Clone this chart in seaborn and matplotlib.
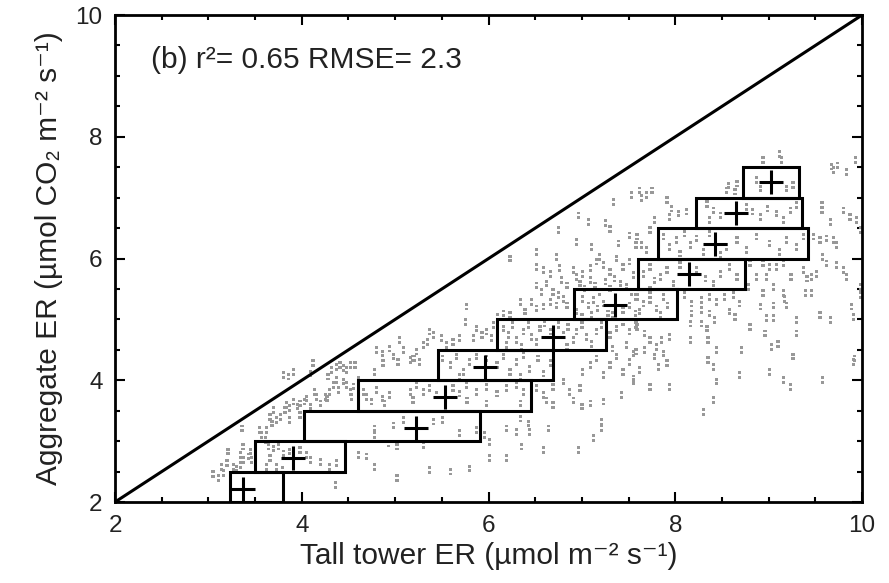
import matplotlib
matplotlib.use("Agg")
import matplotlib.pyplot as plt
import pandas as pd
import seaborn as sns
from matplotlib.path import Path
from matplotlib.patches import Rectangle
from matplotlib.ticker import MultipleLocator

# Hourly ecosystem respiration: tall tower flux vs. aggregated (upscaled) flux
tower_er = [
    3.05, 3.11, 3.16, 3.14, 3.20, 3.27, 3.30, 3.34, 3.37, 3.43,
    3.46, 3.21, 3.34, 3.37, 3.57, 3.62, 3.68, 3.73, 3.77, 3.82,
    3.84, 3.87, 3.91, 3.95, 3.98, 4.03, 4.05, 4.09, 4.14, 4.16,
    4.20, 4.25, 3.91, 3.80, 3.86, 4.12, 4.09, 4.28, 4.32, 4.37,
    4.41, 4.45, 4.48, 4.52, 4.57, 4.34, 4.39, 4.30, 4.27, 4.37,
    4.45, 4.48, 4.52, 4.53, 4.55, 4.61, 4.80, 4.86, 4.94, 4.98,
    5.05, 5.09, 5.03, 5.16, 5.21, 4.87, 4.78, 4.66, 4.69, 4.75,
    4.80, 4.86, 4.89, 4.94, 5.16, 5.19, 3.61, 3.64, 3.70, 3.75,
    3.80, 3.87, 3.98, 4.05, 4.09, 4.20, 4.30, 4.37, 4.36, 4.78,
    4.78, 4.98, 5.09, 4.61, 4.69, 4.78, 5.02, 4.93, 5.02, 3.73,
    3.79, 3.45, 3.66, 3.62, 3.36, 3.55, 3.66, 3.70, 3.98, 3.87,
    6.75, 6.94, 7.10, 7.19, 7.30, 7.39, 7.51, 7.58, 6.73, 6.51,
    6.23, 6.51, 6.59, 6.66, 6.76, 6.91, 6.94, 7.01, 7.09, 7.16,
    7.23, 7.30, 7.37, 7.44, 7.51, 7.55, 6.78, 6.84, 6.51, 6.57,
    6.62, 6.69, 6.75, 6.80, 6.84, 6.73, 6.66, 6.59, 6.51, 6.46,
    6.34, 6.39, 6.23, 6.16, 6.10, 6.05, 6.98, 7.03, 7.09, 7.14,
    7.19, 7.25, 7.30, 7.35, 7.41, 7.48, 7.53, 7.58, 7.01, 7.07,
    7.12, 7.17, 7.23, 7.28, 7.33, 7.44, 7.51, 7.57, 6.94, 7.00,
    7.10, 6.16, 6.21, 6.26, 6.30, 6.37, 6.43, 6.46, 6.51, 6.55,
    6.60, 6.66, 6.75, 6.80, 6.85, 6.91, 6.94, 7.00, 7.05, 7.10,
    7.16, 7.21, 6.19, 6.35, 6.84, 5.76, 5.75, 5.87, 5.93, 5.98,
    6.03, 5.84, 5.69, 5.62, 5.55, 5.50, 5.41, 5.35, 5.30, 5.23,
    5.19, 5.26, 5.37, 5.51, 5.59, 5.66, 5.73, 5.80, 5.87, 5.98,
    6.09, 6.16, 6.23, 6.30, 6.37, 6.44, 6.53, 6.59, 6.66, 5.69,
    6.34, 5.23, 5.30, 5.37, 5.44, 5.62, 5.69, 5.76, 5.87, 5.98,
    6.09, 6.19, 6.30, 6.37, 6.51, 6.59, 6.69, 6.80, 6.87, 6.98,
    7.01, 7.09, 7.16, 7.23, 7.30, 7.37, 7.44, 7.51, 7.58, 7.30,
    7.37, 7.44, 7.51, 7.58, 7.33, 7.48, 7.55,
    6.62, 6.69, 6.91, 7.00, 7.09, 7.23, 7.42, 6.34, 6.43, 6.44,
    6.19, 6.30, 6.01, 6.64, 7.12, 7.21, 7.21, 6.35, 6.59, 6.96,
    6.01, 6.19, 5.37, 5.59, 5.80, 5.41, 5.51, 5.69, 5.87, 5.96,
    5.30, 5.98, 5.77, 6.34,
    8.94, 9.12, 9.14, 8.66, 8.57, 8.55, 8.64, 8.87, 8.91, 9.19,
    9.26, 9.69, 9.74, 9.83, 7.62, 7.69, 7.91, 7.96, 8.03, 8.12,
    7.94, 7.78, 7.73, 7.59, 7.64, 7.69, 8.34, 8.41, 8.48, 8.37,
    8.76, 8.83, 8.91, 8.99, 9.08, 9.16, 9.23, 9.30, 7.87, 7.94,
    8.01, 8.10, 8.16, 8.23, 8.30, 8.37, 8.55, 8.66, 8.76, 8.87,
    9.01, 9.12, 9.19, 9.30, 9.37, 8.05, 8.48, 7.66, 7.73, 7.78,
    7.84, 7.91, 7.98, 8.05, 8.23, 8.32, 8.41, 8.48, 8.58, 8.66,
    7.73, 9.57, 9.57, 9.66, 9.80, 9.87, 9.94, 9.98, 9.48, 9.55,
    9.62, 9.69, 9.73, 9.58, 9.62, 9.73, 9.80, 9.51, 9.37, 9.41,
    9.46, 9.24, 9.16, 9.08, 9.01, 8.94, 8.98, 9.05, 8.80, 8.87,
    8.78, 8.94, 9.16, 9.83, 9.98,
    7.59, 7.66, 7.73, 7.80, 7.87, 7.92, 7.62, 7.84, 8.10, 8.17,
    8.28, 8.37, 8.44, 8.53, 8.62, 8.69, 8.17, 8.28, 8.37, 8.42,
    8.28, 8.16, 8.34, 8.58, 8.64, 8.80, 8.91, 8.98, 9.05, 9.05,
    9.17, 9.19, 9.30, 9.39, 9.46, 9.55, 9.66, 9.89, 9.91, 9.98,
    7.59, 7.67, 7.73, 7.80, 7.87, 7.91, 7.82, 7.78, 7.85, 7.94,
    7.62, 7.55, 7.73, 7.94, 8.16, 8.35, 8.44, 8.35, 8.41, 8.44,
    8.71, 8.69, 8.96, 9.03, 9.10, 9.01, 9.16, 9.23, 9.26, 9.30,
    9.58, 9.91, 8.41, 8.30, 7.55, 7.67,
    6.96, 7.34, 7.53, 7.64, 7.75, 7.07, 7.25, 9.92, 9.67, 9.93,
]

aggregate_er = [
    2.46, 2.39, 2.48, 2.58, 2.64, 2.58, 2.55, 2.61, 2.69, 2.75,
    2.69, 2.83, 2.77, 2.91, 3.10, 3.18, 3.29, 3.35, 3.40, 3.51,
    3.59, 3.54, 3.65, 3.57, 3.62, 3.65, 3.70, 3.57, 3.81, 3.73,
    3.62, 3.73, 4.14, 4.09, 4.06, 4.28, 4.11, 4.06, 4.17, 4.22,
    4.25, 4.20, 4.17, 4.25, 4.25, 3.92, 3.84, 3.81, 3.70, 4.00,
    3.98, 3.92, 3.81, 3.73, 3.90, 4.00, 4.50, 4.44, 4.52, 4.39,
    4.66, 4.50, 4.30, 4.33, 4.36, 4.28, 4.14, 3.81, 3.73, 3.65,
    3.84, 3.70, 3.62, 3.76, 3.81, 3.68, 3.02, 2.91, 2.88, 2.91,
    2.80, 2.83, 2.85, 2.77, 2.69, 2.66, 2.58, 2.64, 2.28, 3.21,
    3.10, 3.26, 3.35, 2.77, 2.75, 2.58, 2.39, 2.96, 2.91, 2.58,
    2.53, 2.83, 2.72, 2.58, 3.21, 3.18, 3.40, 3.51, 3.43, 3.35,
    6.47, 6.27, 6.19, 6.03, 6.49, 6.25, 6.38, 6.22, 6.03, 6.11,
    6.00, 5.86, 5.81, 5.75, 5.84, 5.81, 5.70, 5.75, 5.84, 5.95,
    5.89, 5.78, 6.00, 5.86, 5.95, 5.73, 5.65, 5.56, 5.56, 5.45,
    5.59, 5.45, 5.40, 5.34, 5.23, 5.23, 5.29, 5.21, 5.18, 5.29,
    5.29, 5.13, 5.07, 5.10, 5.04, 4.91, 5.59, 5.51, 5.65, 5.56,
    5.45, 5.62, 5.51, 5.67, 5.59, 5.54, 5.45, 5.37, 5.34, 5.23,
    5.32, 5.18, 5.26, 5.10, 5.07, 5.15, 5.23, 5.10, 5.13, 5.04,
    5.07, 4.85, 4.74, 4.91, 4.66, 4.80, 4.91, 4.71, 4.63, 4.85,
    4.93, 4.80, 4.91, 4.74, 4.88, 4.66, 4.80, 4.91, 4.71, 4.60,
    4.80, 4.91, 4.58, 4.55, 4.55, 5.21, 4.96, 4.85, 4.74, 4.80,
    4.69, 4.69, 4.69, 4.63, 4.58, 4.69, 4.74, 4.63, 4.58, 4.47,
    4.36, 4.30, 4.80, 4.36, 4.25, 4.39, 4.14, 4.30, 4.39, 4.36,
    4.25, 4.39, 4.14, 4.30, 4.41, 4.19, 4.36, 4.11, 4.28, 4.06,
    4.06, 3.92, 3.81, 3.87, 3.76, 3.87, 3.78, 3.92, 3.81, 3.89,
    3.78, 3.87, 3.92, 3.81, 3.87, 3.76, 3.89, 3.98, 3.81, 3.87,
    4.14, 4.25, 4.36, 4.09, 4.25, 4.39, 4.14, 4.30, 4.47, 4.74,
    4.85, 4.96, 4.80, 4.91, 4.52, 4.58, 3.98,
    3.67, 3.59, 3.67, 3.57, 3.62, 3.65, 3.76, 3.37, 3.29, 3.15,
    3.21, 3.15, 2.99, 3.21, 3.05, 3.32, 3.21, 2.91, 2.85, 2.85,
    2.72, 2.72, 2.53, 2.50, 2.55, 3.32, 3.35, 3.13, 3.18, 3.10,
    2.94, 3.62, 3.67, 3.62,
    7.62, 7.72, 7.62, 7.23, 7.20, 7.12, 7.10, 7.29, 7.15, 7.15,
    7.21, 7.45, 7.53, 7.42, 7.12, 7.04, 6.96, 6.82, 6.74, 6.77,
    6.68, 6.63, 6.47, 6.36, 6.22, 6.14, 6.90, 6.79, 6.71, 6.63,
    6.85, 6.77, 6.68, 6.82, 6.74, 6.63, 6.79, 6.88, 6.36, 6.19,
    6.30, 6.41, 6.22, 6.33, 6.11, 6.41, 6.19, 6.30, 6.14, 6.36,
    6.25, 6.11, 6.30, 6.19, 6.36, 6.08, 6.06, 5.75, 5.86, 5.64,
    5.70, 5.81, 5.59, 5.89, 5.81, 5.67, 5.59, 5.75, 5.86, 5.70,
    5.48, 6.88, 6.79, 6.60, 6.79, 6.68, 6.63, 6.47, 6.36, 6.30,
    6.33, 6.30, 6.22, 6.03, 5.92, 5.89, 5.81, 5.75, 5.81, 5.67,
    5.70, 5.70, 5.92, 5.86, 5.86, 5.92, 5.70, 5.53, 5.92, 5.70,
    5.53, 5.43, 5.43, 5.70, 5.53,
    5.37, 5.26, 5.32, 5.18, 5.37, 5.23, 5.13, 5.07, 5.40, 5.26,
    5.32, 5.37, 5.29, 5.37, 5.40, 5.26, 5.10, 5.15, 5.10, 4.99,
    4.93, 4.93, 4.85, 5.13, 5.04, 4.88, 5.21, 5.02, 5.23, 5.02,
    5.34, 5.23, 4.99, 5.43, 5.43, 5.07, 4.99, 5.21, 5.04, 5.40,
    4.88, 4.77, 4.66, 4.55, 4.44, 4.28, 4.22, 4.39, 4.66, 4.71,
    4.17, 4.03, 3.89, 3.89, 4.66, 4.66, 4.50, 4.33, 4.22, 3.98,
    4.50, 4.09, 4.77, 4.55, 4.60, 4.14, 4.00, 3.89, 4.39, 4.77,
    4.00, 4.30, 3.68, 3.48, 4.44, 4.50,
    6.71, 6.93, 7.04, 6.99, 7.12, 6.60, 6.58, 4.36, 7.51, 7.62,
]

# Binned statistics: aggregate ER bins of 0.5, spread of tower ER in each bin
bin_lower = [2.0, 2.5, 3.0, 3.5, 4.0, 4.5, 5.0, 5.5, 6.0, 6.5, 7.0]
bin_width = 0.5
box_left = [3.23, 3.50, 4.02, 4.60, 5.46, 6.09, 6.91, 7.60, 7.82, 8.22, 8.73]
box_right = [3.80, 4.46, 5.91, 6.45, 6.69, 7.26, 8.02, 8.75, 9.42, 9.36, 9.33]
bin_mean_tower = [3.37, 3.91, 5.22, 5.53, 5.96, 6.69, 7.35, 8.15, 8.43, 8.65, 9.03]
bin_mean_aggregate = [2.22, 2.72, 3.22, 3.73, 4.22, 4.71, 5.23, 5.74, 6.24, 6.74, 7.25]

axis_limits = [2, 10]
stats_text = "(b) r²= 0.65 RMSE= 2.3"

sns.set_theme(style="ticks")
plt.rcParams["font.family"] = ["Liberation Sans", "DejaVu Sans"]

fig = plt.figure(figsize=(8.89, 5.83), dpi=100)
ax = fig.add_axes([0.1294, 0.1389, 0.8403, 0.8353])

# Each observation is drawn as a small pair of stacked grey dots
d = 0.42
pair_verts = [(-d, 0.25), (d, 0.25), (d, 1.0), (-d, 1.0), (-d, 0.25),
              (-d, -1.0), (d, -1.0), (d, -0.25), (-d, -0.25), (-d, -1.0)]
pair_codes = [Path.MOVETO, Path.LINETO, Path.LINETO, Path.LINETO, Path.CLOSEPOLY] * 2
pair_marker = Path(pair_verts, pair_codes)

obs = pd.DataFrame({"tower": tower_er, "aggregate": aggregate_er})
sns.scatterplot(data=obs, x="tower", y="aggregate", marker=pair_marker, s=30,
                color="#989898", edgecolor="none", linewidth=0, ax=ax, zorder=1)

# 1:1 line
ax.plot(axis_limits, axis_limits, color="black", lw=2.2, zorder=3,
        solid_capstyle="butt")

# Bin boxes
for lo, left, right in zip(bin_lower, box_left, box_right):
    ax.add_patch(Rectangle((left, lo), right - left, bin_width, fill=False,
                           edgecolor="black", lw=2.2, zorder=3))

# Bin means
means = pd.DataFrame({"tower": bin_mean_tower, "aggregate": bin_mean_aggregate})
sns.scatterplot(data=means, x="tower", y="aggregate", marker="+", s=290,
                color="black", linewidth=2.2, ax=ax, zorder=4)

ax.set_xlim(axis_limits)
ax.set_ylim(axis_limits)
ax.xaxis.set_major_locator(MultipleLocator(2))
ax.yaxis.set_major_locator(MultipleLocator(2))
ax.xaxis.set_minor_locator(MultipleLocator(0.5))
ax.yaxis.set_minor_locator(MultipleLocator(0.5))
ax.tick_params(which="both", direction="in", top=True, right=True,
               width=1.5, color="black")
ax.tick_params(which="major", length=7.5, labelsize=17.5, pad=9,
               labelcolor="#222222")
ax.tick_params(which="minor", length=3.8)
for spine in ax.spines.values():
    spine.set_linewidth(2.0)
    spine.set_color("black")

ax.set_xlabel("Tall tower ER (µmol m⁻² s⁻¹)", fontsize=21.5,
              labelpad=4, color="#222222")
ax.set_ylabel("Aggregate ER (µmol CO₂ m⁻² s⁻¹)", fontsize=21.5,
              labelpad=9, color="#222222")

ax.text(2.39, 9.13, stats_text, fontsize=21.5, ha="left", va="baseline",
        color="#222222")

fig.savefig("out.png", dpi=100)
